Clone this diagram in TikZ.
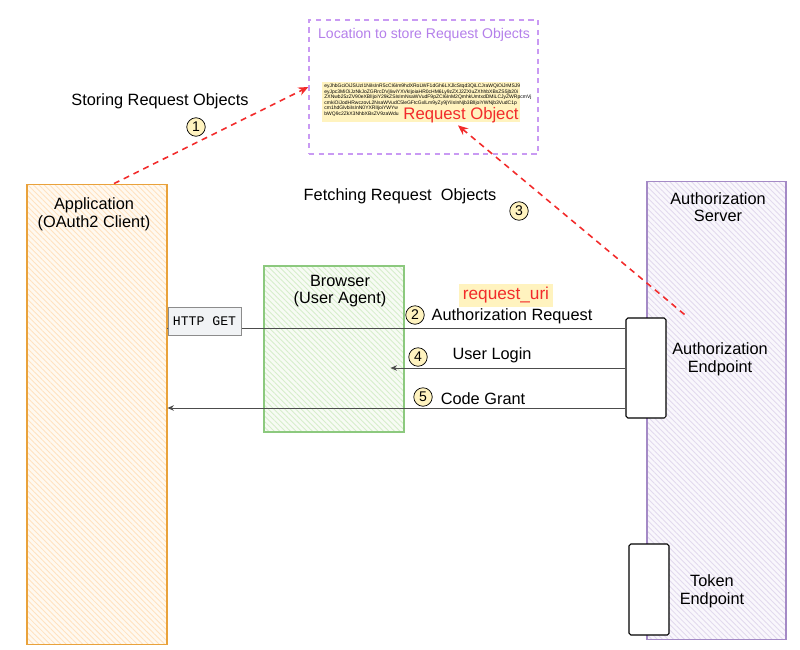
\documentclass[tikz,border=0pt]{standalone}
\usepackage{fontspec}
\setmainfont{Liberation Sans}
\setmonofont{Liberation Mono}
\usetikzlibrary{arrows.meta,positioning,patterns.meta}

\definecolor{appline}{HTML}{E9A23B}
\definecolor{appfill}{HTML}{FFF9F0}
\definecolor{apphatch}{HTML}{FFE2C0}
\definecolor{brline}{HTML}{8CC97E}
\definecolor{brfill}{HTML}{F7FBF4}
\definecolor{brhatch}{HTML}{D6EECB}
\definecolor{asline}{HTML}{A48AC6}
\definecolor{asfill}{HTML}{F9F7FC}
\definecolor{ashatch}{HTML}{E2DAEE}
\definecolor{storeline}{HTML}{C99AF3}
\definecolor{storetext}{HTML}{B47FEA}
\definecolor{noteyel}{HTML}{FFF3BF}
\definecolor{redline}{HTML}{F22B2B}
\definecolor{httpfill}{HTML}{F1F3F5}

\begin{document}
\begin{tikzpicture}[
  x=0.02cm, y=-0.02cm,
  font=\fontsize{9.3}{10}\selectfont,
  actor/.style={draw=#1line, line width=0.6pt, preaction={fill=#1fill},
                pattern={Lines[angle=-45,distance=2.2pt,line width=0.5pt]},
                pattern color=#1hatch, inner sep=0pt},
  endp/.style={draw, fill=white, line width=0.6pt, rounded corners=1pt,
               minimum width=0.8cm, inner sep=0pt},
  title/.style={align=center},
  num/.style={circle, draw, fill=noteyel, inner sep=0pt, minimum size=0.37cm,
              font=\fontsize{8}{8}\selectfont},
  flow/.style={draw=black!70, line width=0.5pt},
  arr/.style={flow, -{Stealth[length=1.3mm, width=1.1mm]}},
  dasharr/.style={draw=redline, line width=0.9pt, dash pattern=on 3.4pt off 2.8pt,
                  -{Stealth[length=2mm, width=1.7mm]}},
]
\useasboundingbox (0,0) rectangle (800,649);

% actors
\node[actor=app, minimum width=2.8cm, minimum height=9.22cm] (app) at (97,414.5) {};
\node[actor=br, minimum width=2.8cm, minimum height=3.32cm] (browser) at (334,349) {};
\node[actor=as, minimum width=2.78cm, minimum height=9.18cm] (server) at (716.5,410.5) {};
\node[title] (apptitle) at (94,214) {Application\\(OAuth2 Client)};
\node[title] (brtitle) at (340,291) {Browser\\(User Agent)};
\node[title] (astitle) at (718,207) {Authorization\\Server};

% request object store
\node[draw=storeline, line width=0.8pt, dash pattern=on 3pt off 2.5pt,
      minimum width=4.58cm, minimum height=2.68cm] (store) at (423.5,87) {};
\node[text=storetext, font=\fontsize{8}{9}\selectfont] (storetitle) at (424,35)
  {Location to store Request Objects};
\node[fill=noteyel, minimum width=3.96cm, minimum height=0.8cm, inner sep=0pt] (reqobj) at (421,102) {};
\node[font=\fontsize{2.85}{3.1}\selectfont, align=left, anchor=north west, inner sep=0pt] (jwt) at (324,84)
  {eyJhbGciOiJSUzI1NiIsInR5cCI6Im9hdXRoLWF1dGh6LXJlcStqd3QiLCJraWQiOiJrMSJ9\\
   eyJpc3MiOiJzNkJoZGRrcDVjIiwiYXVkIjoiaHR0cHM6Ly9zZXJ2ZXIuZXhhbXBsZS5jb20i\\
   ZXNwb25zZV90eXBlIjoiY29kZSIsImNsaWVudF9pZCI6InM2QmhkUmtxdDMiLCJyZWRpcmVj\\
   cmkiOiJodHRwczovL2NsaWVudC5leGFtcGxlLm9yZy9jYiIsInNjb3BlIjoiYWNjb3VudC1p\\
   cm1hdGlvbiIsInN0YXRlIjoiYWYw\\
   bWQ9c2ZkX3NhbXBsZV9zaWdu};
\node[text=redline, font=\fontsize{9.5}{10}\selectfont, inner sep=0pt] (reqlabel) at (461,115) {Request Object};

% endpoints
\node[endp, minimum height=2cm] (authep) at (646,368) {};
\node[endp, minimum height=1.82cm] (tokenep) at (649,589.5) {};
\node[title] (aeptitle) at (720,359) {Authorization\\Endpoint};
\node[title] (teptitle) at (712,591) {Token\\Endpoint};

% flows
\coordinate (aer) at ([yshift=0.8cm]authep.west);
\coordinate (aeb) at ([yshift=-0.8cm]authep.west);
\coordinate (brin) at ([xshift=-0.28cm]browser.east);
\draw[flow] (app.east |- aer) -- (aer);
\draw[arr] (authep.west) -- (brin |- authep.west);
\draw[arr] (aeb) -- (app.east |- aeb);
\node[draw=black!45, fill=httpfill, font=\ttfamily\fontsize{7.5}{8}\selectfont,
      minimum width=1.46cm, minimum height=0.56cm, inner sep=1pt] (httpget) at (204.5,321) {HTTP GET};

\node[num] (n2) at (415,315) {2};
\node (lreq) at (512,316) {Authorization Request};
\node[fill=noteyel, text=redline, font=\fontsize{9.8}{10}\selectfont,
      minimum width=1.88cm, minimum height=0.46cm, inner sep=1pt] (uri) at (506,295.5) {request\_uri};
\node[num] (n4) at (418,357) {4};
\node (llogin) at (492,355) {User Login};
\node[num] (n5) at (423,397) {5};
\node (lgrant) at (483,399) {Code Grant};

% storing / fetching
\coordinate (appout) at ([xshift=0.34cm]app.north);
\coordinate (asout) at ([xshift=0.36cm, yshift=0.06cm]authep.north east);
\coordinate (reqin) at ([xshift=0.74cm, yshift=-0.06cm]reqobj.south);
\draw[dasharr] (appout) -- (store.west);
\draw[dasharr] (asout) -- (reqin);
\node[num] (n1) at (196,127) {1};
\node (lstore) at (160,101) {Storing Request Objects};
\node[num] (n3) at (519,211) {3};
\node (lfetch) at (400,196) {Fetching Request\ \ Objects};
\end{tikzpicture}
\end{document}
